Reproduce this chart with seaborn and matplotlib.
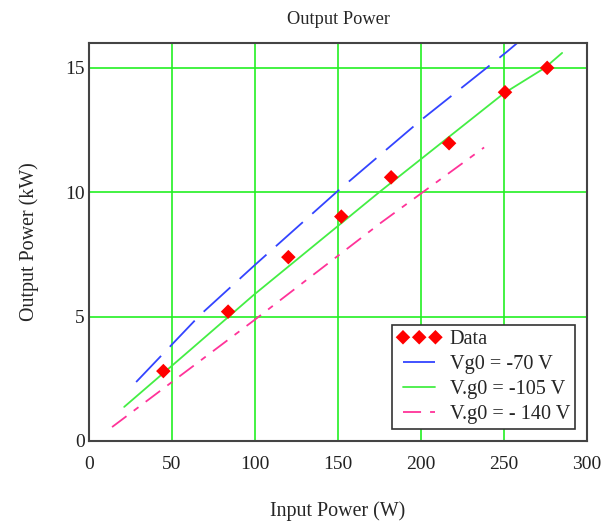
"""
Output power vs input power, measured points and three Vg0 curves
"""
import numpy as np
import pandas as pd
import matplotlib
matplotlib.use('Agg')
import matplotlib.pyplot as plt
import seaborn as sns

# measured points
data_x = [44.8, 83.8, 120.1, 152.0, 182.0, 216.9, 250.6, 276.0]
data_y = [2.81, 5.20, 7.39, 9.02, 10.60, 11.97, 14.02, 15.00]

# model curves
vg70_x = [28.4, 67.0, 100.0, 149.0, 200.0, 251.6, 258.0]
vg70_y = [2.37, 5.07, 7.08, 10.00, 12.90, 15.64, 16.00]

vg105_x = [21.2, 61.0, 99.2, 174.8, 250.0, 274.6, 285.0]
vg105_y = [1.37, 3.66, 5.87, 10.00, 13.98, 15.00, 15.60]

vg140_x = [13.9, 99.2, 176.0, 238.0]
vg140_y = [0.56, 4.84, 8.78, 11.80]

x_ticks = [0, 50, 100, 150, 200, 250, 300]
y_ticks = [0, 5, 10, 15]

sns.set_style('white')
plt.rcParams['font.family'] = ['Liberation Serif', 'DejaVu Serif']

fig = plt.figure(figsize=(6.15, 5.21), dpi=100)
ax = fig.add_axes([0.1447, 0.1536, 0.8098, 0.7639])

grid_green = '#22f022'
for v in x_ticks[1:-1]:
    ax.axvline(v, color=grid_green, lw=1.2, zorder=0)
for v in y_ticks[1:]:
    ax.axhline(v, color=grid_green, lw=1.2, zorder=0)

sns.lineplot(x=vg70_x, y=vg70_y, ax=ax, color='#3344ff', lw=1.3,
             label='Vg0 = -70 V').lines[-1].set_dashes((20, 7))
sns.lineplot(x=vg105_x, y=vg105_y, ax=ax, color='#44ee44', lw=1.3,
             label='V.g0 = -105 V')
sns.lineplot(x=vg140_x, y=vg140_y, ax=ax, color='#ff3399', lw=1.3,
             label='V.g0 = - 140 V').lines[-1].set_dashes((10, 5, 3.3, 5))
sns.scatterplot(x=data_x, y=data_y, ax=ax, color='red', marker='D', s=55,
                edgecolor='none', label='Data', zorder=5)

ax.set_xlim(0, 300)
ax.set_ylim(0, 16)
ax.set_xticks(x_ticks)
ax.set_yticks(y_ticks)
ax.tick_params(axis='both', length=0, labelsize=14, labelcolor='#222222')
ax.tick_params(axis='x', pad=11)
ax.tick_params(axis='y', pad=3)

for s in ax.spines.values():
    s.set_color('#444444')
    s.set_linewidth(1.5)
    s.set_visible(True)

ax.set_title('Output Power', fontsize=13.2, pad=14)
ax.set_xlabel('Input Power (W)', fontsize=14.4, labelpad=20)
ax.set_ylabel('Output Power (kW)', fontsize=14.4, labelpad=19)

h, l = ax.get_legend_handles_labels()
order = [3, 0, 1, 2]
leg = ax.legend([h[i] for i in order], [l[i] for i in order],
                loc='lower right', bbox_to_anchor=(0.976, 0.03),
                borderaxespad=0, numpoints=3, scatterpoints=3,
                scatteryoffsets=[0.5], markerscale=1.0,
                handlelength=2.2, fontsize=14.6, fancybox=False,
                framealpha=1, edgecolor='#333333', borderpad=0.25,
                labelspacing=0.28, handletextpad=0.4)
leg.get_frame().set_linewidth(1.2)

plt.savefig('out.png', dpi=100)
